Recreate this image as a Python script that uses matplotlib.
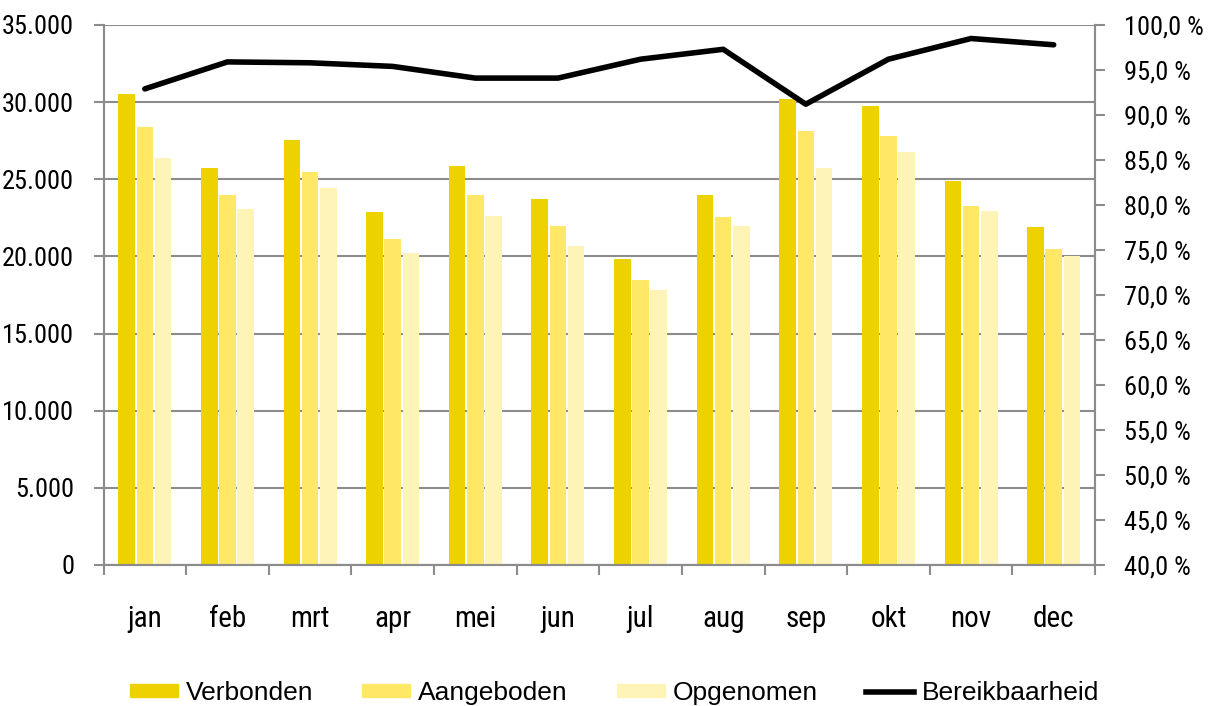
import numpy as np
import matplotlib
matplotlib.use('Agg')
import matplotlib.pyplot as plt
from matplotlib.patches import Patch
from matplotlib.lines import Line2D
from matplotlib.ticker import FuncFormatter, MultipleLocator

months = ['jan', 'feb', 'mrt', 'apr', 'mei', 'jun', 'jul', 'aug', 'sep', 'okt', 'nov', 'dec']
verbonden = [30500, 25750, 27550, 22850, 25850, 23700, 19850, 24000, 30200, 29750, 24900, 21900]
aangeboden = [28400, 24000, 25500, 21150, 23950, 22000, 18500, 22550, 28150, 27800, 23300, 20450]
opgenomen = [26400, 23050, 24450, 20200, 22600, 20700, 17800, 21950, 25700, 26800, 22950, 20000]
bereikbaarheid = [92.9, 95.9, 95.8, 95.4, 94.1, 94.1, 96.2, 97.3, 91.2, 96.2, 98.5, 97.8]

col_v = '#EED200'
col_a = '#FFE866'
col_o = '#FFF4B8'
grid_col = '#8C8C8C'
tick_font = ['Roboto Condensed', 'Open Sans Condensed', 'Liberation Sans Narrow', 'Roboto']

fig = plt.figure(figsize=(12.15, 7.06), dpi=100)
# plot area: x 103.5..1095 px, y 25..565 px
ax = fig.add_axes([103.5 / 1215, 1 - 565 / 706, 991.5 / 1215, 540 / 706])
ax2 = ax.twinx()

x = np.arange(len(months))
w = 0.2
step = 0.22
ax.bar(x - step, verbonden, w, color=col_v, zorder=2)
ax.bar(x, aangeboden, w, color=col_a, zorder=2)
ax.bar(x + step, opgenomen, w, color=col_o, zorder=2)

ax.set_xlim(-0.5, len(months) - 0.5)
ax.set_ylim(0, 35000)
ax.yaxis.set_major_locator(MultipleLocator(5000))
ax.yaxis.set_major_formatter(FuncFormatter(lambda v, p: f'{int(v):,}'.replace(',', '.')))
ax.grid(axis='y', color=grid_col, linewidth=1.5, zorder=0)
ax.set_axisbelow(True)

ax.set_xticks(np.arange(len(months) + 1) - 0.5)
ax.set_xticklabels([])
ax.set_xticks(x, minor=True)
ax.set_xticklabels(months, minor=True)
ax.tick_params(axis='x', which='major', length=7.2, width=1.5, color=grid_col, direction='out')
ax.tick_params(axis='x', which='minor', length=0, pad=29, labelsize=21)
ax.tick_params(axis='y', length=7.2, width=1.5, color=grid_col, labelsize=19, pad=14)
for lbl in ax.get_xticklabels(minor=True) + ax.get_yticklabels():
    lbl.set_family(tick_font)

ax2.plot(x, bereikbaarheid, color='black', linewidth=4, solid_capstyle='round', zorder=3)
ax2.set_ylim(40, 100)
ax2.yaxis.set_major_locator(MultipleLocator(5))
ax2.yaxis.set_major_formatter(FuncFormatter(lambda v, p: f'{v:.1f} %'.replace('.', ',')))
ax2.tick_params(axis='y', length=7.2, width=1.5, color=grid_col, labelsize=19, pad=14)
for lbl in ax2.get_yticklabels():
    lbl.set_family(tick_font)

for a in (ax, ax2):
    a.spines['top'].set_visible(False)
    for s in ('left', 'right', 'bottom'):
        a.spines[s].set_color(grid_col)
        a.spines[s].set_linewidth(1.5)

handles = [Patch(color=col_v), Patch(color=col_a), Patch(color=col_o),
           Line2D([0], [0], color='black', linewidth=4)]
labels = ['Verbonden', 'Aangeboden', 'Opgenomen', 'Bereikbaarheid']
fig.legend(handles, labels, loc='lower center', bbox_to_anchor=(0.506, -0.032), ncol=4,
           frameon=False, prop={'family': 'Liberation Sans', 'size': 19},
           handlelength=1.82, handleheight=0.4, columnspacing=1.85, handletextpad=0.3)

fig.savefig('out.png', dpi=100)
